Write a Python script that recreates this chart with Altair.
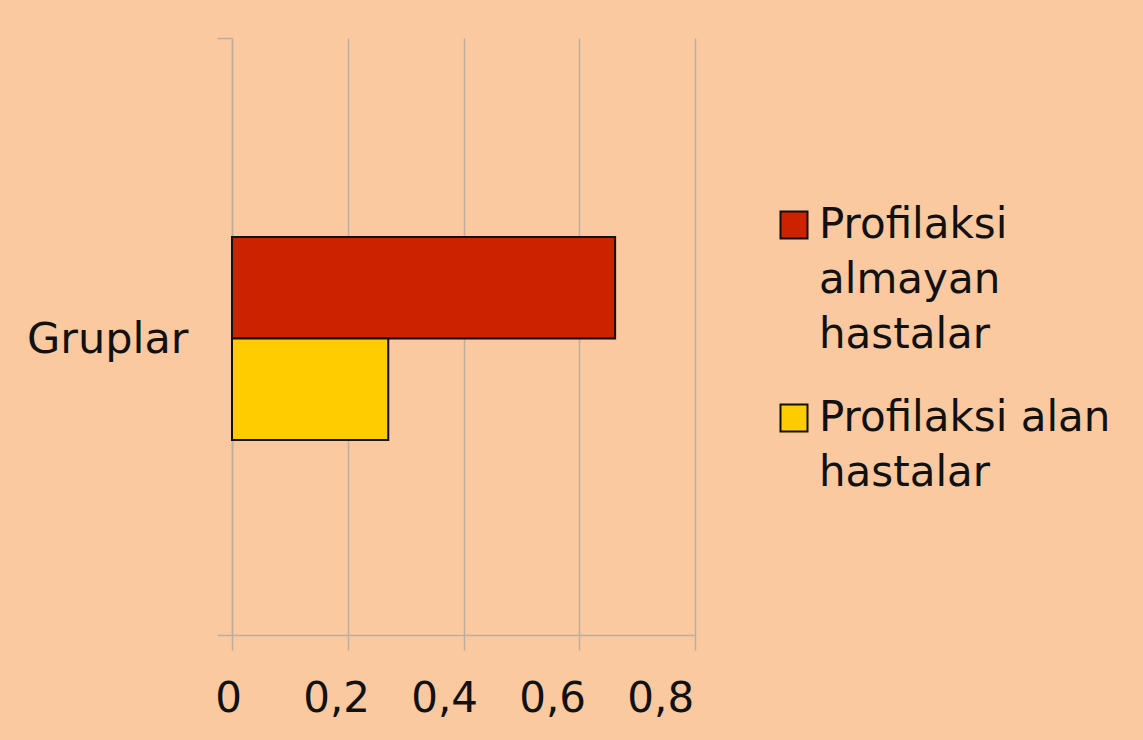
import altair as alt
import pandas as pd

# Values per patient group
groups = ["Gruplar", "Gruplar"]
series = ["Profilaksi almayan hastalar", "Profilaksi alan hastalar"]
values = [0.662, 0.27]
colors = ["#CC2200", "#FFCC00"]
x_ticks = [0, 0.2, 0.4, 0.6, 0.8]

df = pd.DataFrame({"grup": groups, "seri": series, "deger": values})

BG = "#FAC9A0"
GRID = "#BDAE9F"
FONT = "DejaVu Sans"

# legend labels broken into lines
label_lines = (
    "datum.label == 'Profilaksi almayan hastalar' ? "
    "['Profilaksi', 'almayan', 'hastalar'] : ['Profilaksi alan', 'hastalar']"
)

chart = (
    alt.Chart(df)
    .mark_bar(stroke="#111111", strokeWidth=2)
    .encode(
        x=alt.X(
            "deger:Q",
            scale=alt.Scale(domain=[0, 0.8], nice=False),
            axis=alt.Axis(
                values=x_ticks,
                title=None,
                grid=True,
                gridColor=GRID,
                gridWidth=1.5,
                domainColor=GRID,
                domainWidth=1.5,
                tickColor=GRID,
                tickWidth=1.5,
                tickSize=15,
                labelFlush=False,
                labelPadding=28,
                labelFontSize=42,
                labelFont=FONT,
                labelColor="#111111",
                labelOffset=alt.ExprRef("-4 - 38.5 * datum.value"),
                labelExpr="datum.value == 0 ? '0' : replace(format(datum.value, '.1f'), '.', ',')",
            ),
        ),
        y=alt.Y(
            "grup:N",
            scale=alt.Scale(paddingInner=0, paddingOuter=0),
            axis=alt.Axis(
                title=None,
                grid=False,
                tickBand="extent",
                tickSize=15,
                tickColor=GRID,
                tickWidth=1.5,
                domainColor=GRID,
                domainWidth=1.5,
                labelPadding=29,
                labelFontSize=43,
                labelFont=FONT,
                labelColor="#111111",
                labelOffset=3,
            ),
        ),
        yOffset=alt.YOffset(
            "seri:N",
            sort=series,
            scale=alt.Scale(range=[199, 402], paddingInner=0, paddingOuter=0),
        ),
        color=alt.Color(
            "seri:N",
            sort=series,
            scale=alt.Scale(domain=series, range=colors),
            legend=alt.Legend(
                title=None,
                orient="none",
                legendX=541,
                legendY=166,
                padding=0,
                symbolType="square",
                symbolSize=729,
                symbolStrokeColor="#111111",
                symbolStrokeWidth=2,
                labelFontSize=42,
                labelFont=FONT,
                labelColor="#111111",
                labelLimit=400,
                labelOffset=4,
                rowPadding=41,
                labelExpr=label_lines,
            ),
        ),
    )
    .properties(
        width=463,
        height=597,
        background=BG,
        padding={"left": 232, "top": 38, "right": 448, "bottom": 105},
        autosize=alt.AutoSizeParams(type="none"),
    )
    .configure(
        view=alt.ViewConfig(stroke=None, fill=BG),
        style={"guide-label": {"lineHeight": 55}},
    )
)

chart.save("out.html", embed_options={"renderer": "svg", "actions": False})
